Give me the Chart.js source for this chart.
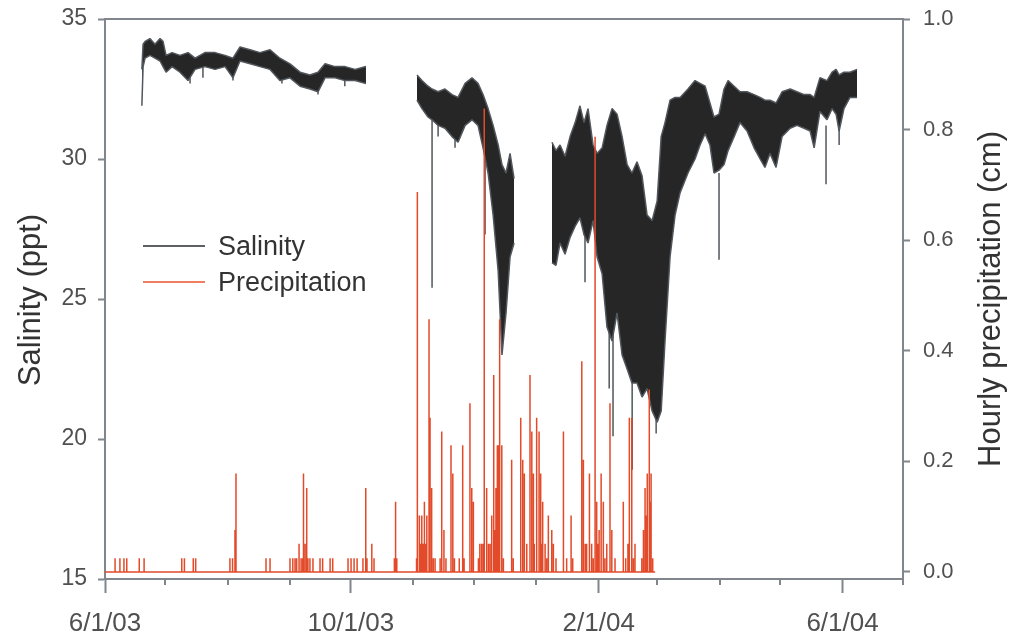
<!DOCTYPE html>
<html>
<head>
<meta charset="utf-8">
<script src="https://cdn.jsdelivr.net/npm/chart.js@4.4.0/dist/chart.umd.min.js"></script>
<style>
  html, body { margin: 0; padding: 0; background: #fff; }
  #wrap { position: relative; width: 1014px; height: 641px; }
  .legend {
    position: absolute; left: 143px; top: 228px;
    font-family: 'Liberation Sans', Arial, sans-serif; font-size: 27px; color: #333;
  }
  .legend-row { display: flex; align-items: center; height: 36px; }
  .legend-swatch { width: 62px; height: 2px; margin-right: 13px; }
</style>
</head>
<body>
<div id="wrap">
  <canvas id="chart" width="1014" height="641"></canvas>
  <div class="legend">
    <div class="legend-row"><span class="legend-swatch" style="background:#5c6166"></span>Salinity</div>
    <div class="legend-row"><span class="legend-swatch" style="background:#ee7f62"></span>Precipitation</div>
  </div>
</div>
<script>
// days counted from 6/1/03
const monthDays = [0, 30, 61, 92, 122, 153, 183, 214, 245, 274, 305, 335, 366, 396];
const labelDays = [0, 122, 245, 366];
const labelText = ['6/1/03', '10/1/03', '2/1/04', '6/1/04'];
const salTicks = [15, 20, 25, 30, 35];
const rainTicks = [0, 0.2, 0.4, 0.6, 0.8, 1.0];

// salinity envelope (upper / lower edge of the hourly trace), null = logger gap
const salDays = [
  18.3, 18.9, 19.9, 22.3, 24.8, 27.3, 28.8, 30.3, 33.3, 37.2, 41.2, 44.7, 49.6, 54.6, 59.6,
  63.5, 67.0, 72.0, 76.9, 81.9, 86.8, 91.8, 96.8, 101.7, 105.7, 109.2, 114.1, 119.1, 124.1, 129.5,
  null,
  154.8, 157.3, 160.3, 162.3, 165.3, 168.7, 172.2, 175.2, 178.7, 182.1, 185.1, 187.6, 190.1, 192.6,
  195.1, 197.0, 199.0, 201.0, 203.0,
  null,
  221.8, 223.8, 225.8, 228.3, 230.8, 233.3, 235.7, 237.7, 239.7, 242.2, 244.2, 246.7, 249.1, 251.6,
  254.1, 256.6, 259.1, 261.5, 264.0, 266.5, 269.0, 271.5, 274.0, 276.0, 277.9, 280.4, 282.9, 285.4,
  289.3, 292.8, 295.3, 297.8, 300.2, 302.2, 304.7, 307.2, 309.2, 312.2, 315.1, 318.6, 322.1, 325.1,
  327.5, 330.0, 333.0, 336.0, 340.0, 343.4, 346.9, 349.9, 351.9, 354.8, 358.3, 360.8, 362.8, 364.3,
  366.7, 369.7, 373.2,
];
const salHigh = [
  33.2, 34.1, 34.2, 34.3, 34.1, 34.3, 34.2, 33.7, 33.8, 33.7, 33.8, 33.6, 33.8, 33.8, 33.7,
  33.6, 34.0, 33.9, 33.8, 33.9, 33.6, 33.4, 33.1, 33.0, 33.1, 33.4, 33.3, 33.3, 33.2, 33.3,
  null,
  33.0, 32.8, 32.6, 32.5, 32.4, 32.5, 32.3, 32.2, 32.7, 32.9, 32.7, 32.3, 31.8, 31.2,
  30.5, 29.8, 29.5, 30.2, 29.3,
  null,
  30.6, 30.3, 30.5, 30.1, 30.8, 31.3, 31.9, 31.3, 31.8, 30.5, 30.2, 30.4, 31.2, 31.8,
  31.6, 30.8, 29.8, 29.5, 29.9, 29.4, 28.0, 27.8, 28.5, 30.8, 31.3, 32.1, 32.2, 32.2,
  32.5, 32.8, 32.7, 32.6, 32.0, 31.5, 31.6, 32.5, 32.8, 32.6, 32.4, 32.4, 32.3, 32.2,
  32.1, 32.1, 32.0, 32.4, 32.5, 32.4, 32.3, 32.3, 32.2, 32.9, 32.8, 33.1, 33.2, 33.0,
  33.1, 33.1, 33.2,
];
const salLow = [
  31.9, 33.3, 33.6, 33.7, 33.6, 33.5, 33.3, 33.1, 33.3, 33.1, 32.8, 33.2, 33.3, 33.2, 33.3,
  32.9, 33.5, 33.4, 33.3, 33.2, 32.8, 32.9, 32.6, 32.5, 32.4, 32.9, 32.9, 32.8, 32.8, 32.7,
  null,
  32.1, 31.8, 31.5, 31.4, 31.2, 31.1, 30.8, 30.6, 31.2, 31.4, 31.2, 30.4, 29.5, 28.0,
  26.0, 23.0, 24.5, 26.5, 27.0,
  null,
  26.3, 26.2, 27.0, 26.6, 27.2, 27.6, 27.9, 27.3, 27.0, 27.8, 26.5, 25.9, 24.0, 23.5,
  24.5, 23.0, 22.5, 22.0, 22.0, 21.5, 21.8, 21.0, 20.6, 21.0, 23.5, 26.5, 28.0, 28.8,
  29.5, 30.0, 30.5, 30.9, 30.5, 29.5, 29.6, 29.8, 30.3, 30.8, 31.3, 31.0, 30.4, 30.0,
  29.7, 30.2, 29.7, 30.8, 31.1, 31.2, 31.1, 31.0, 30.4, 31.7, 31.4, 31.8, 31.6, 31.0,
  31.8, 32.2, 32.2,
];

// single-hour salinity drops below the band
const spikeDays   = [42.2, 48.6, 63.5, 87.8, 105.7, 119.0, 162.3, 165.3, 173.7, 188.6,
                     238.2, 250.2, 252.1, 261.6, 273.5, 304.7, 357.8, 364.3];
const spikeTop    = [33.3, 33.4, 33.3, 33.3, 32.8, 33.0, 31.5, 31.8, 31.5, 30.5,
                     28.0, 25.0, 24.0, 22.5, 22.0, 29.5, 31.2, 31.5];
const spikeBottom = [32.7, 32.9, 32.8, 32.7, 32.3, 32.6, 25.4, 30.8, 30.4, 27.3,
                     25.6, 21.8, 20.1, 18.9, 20.2, 26.4, 29.1, 30.5];

// hourly precipitation (cm), non-zero hours only
const rainDays = [
  5.0, 7.4, 9.4, 10.8, 17.0, 19.4, 38.1, 39.4, 43.8, 45.0,
  62.0, 63.3, 64.5, 65.0, 79.9, 81.9, 91.8, 93.2, 94.3, 95.1,
  96.3, 97.3, 98.1, 98.5, 99.3, 100.1, 100.7, 101.7, 103.2, 106.7,
  108.0, 111.7, 113.0, 120.6, 122.1, 123.6, 125.1, 128.0, 129.4, 130.0,
  132.4, 133.5, 143.6, 144.2, 144.8,
  154.6, 155.0, 156.0, 156.5, 157.2, 157.8, 158.5, 159.0, 159.7, 160.8,
  161.3, 162.1, 162.9, 163.8, 166.3, 167.1, 168.2, 169.2, 171.7, 172.6,
  173.4, 175.8, 177.5, 178.2, 181.1, 182.0, 182.8, 185.3, 186.0, 186.9,
  187.7, 188.2, 189.4, 190.3, 191.1, 191.9, 192.9, 193.5, 194.0, 194.7,
  195.2, 195.6, 196.0, 196.9, 197.7, 201.8, 202.6, 206.3, 207.3, 208.1,
  209.3, 210.9, 211.8, 212.6, 213.0, 214.2, 215.4, 216.2, 216.7, 217.2,
  218.4, 219.2, 220.0, 221.7, 222.5, 223.8, 227.5, 229.1, 231.3, 232.1,
  236.6, 237.4, 238.3, 239.0, 240.4, 241.5, 242.3, 243.2, 244.0, 244.6,
  245.2, 246.2, 247.3, 248.1, 249.0, 250.6, 251.5, 253.1, 257.2, 258.4,
  259.5, 260.2, 261.4, 262.2, 263.0, 266.4, 267.2, 268.0, 268.6, 269.1,
  270.1, 270.6, 271.0, 271.8,
];
const rainCm = [
  0.025, 0.025, 0.025, 0.025, 0.025, 0.025, 0.025, 0.025, 0.025, 0.025,
  0.025, 0.025, 0.076, 0.178, 0.025, 0.025, 0.025, 0.025, 0.025, 0.025,
  0.051, 0.025, 0.025, 0.178, 0.051, 0.152, 0.025, 0.025, 0.025, 0.025,
  0.025, 0.025, 0.025, 0.025, 0.025, 0.025, 0.025, 0.025, 0.152, 0.025,
  0.051, 0.025, 0.025, 0.127, 0.025,
  0.025, 0.687, 0.102, 0.051, 0.102, 0.051, 0.127, 0.051, 0.102, 0.457,
  0.279, 0.152, 0.025, 0.025, 0.025, 0.254, 0.076, 0.025, 0.229, 0.178,
  0.025, 0.025, 0.229, 0.025, 0.305, 0.152, 0.127, 0.025, 0.051, 0.051,
  0.051, 0.838, 0.152, 0.051, 0.051, 0.102, 0.356, 0.076, 0.152, 0.229,
  0.229, 0.102, 0.457, 0.229, 0.025, 0.203, 0.025, 0.279, 0.203, 0.178,
  0.051, 0.356, 0.254, 0.178, 0.051, 0.279, 0.254, 0.178, 0.051, 0.127,
  0.051, 0.025, 0.102, 0.076, 0.051, 0.025, 0.254, 0.025, 0.102, 0.025,
  0.381, 0.203, 0.051, 0.051, 0.178, 0.051, 0.025, 0.787, 0.127, 0.051,
  0.076, 0.178, 0.127, 0.025, 0.051, 0.305, 0.076, 0.025, 0.127, 0.025,
  0.051, 0.279, 0.279, 0.025, 0.051, 0.025, 0.076, 0.152, 0.102, 0.178,
  0.330, 0.127, 0.178, 0.025,
];
const rainFirstDay = 0;
const rainLastDay = 273;

const AXIS_COLOR = '#80868b';
const TEXT_COLOR = '#505050';
const SAL_FILL = '#262626';
const SAL_EDGE = '#51575c';
const RAIN_COLOR = '#e24a2a';

Chart.defaults.font.family = "'Liberation Sans', Arial, sans-serif";
Chart.defaults.color = TEXT_COLOR;

// ---------------- datasets ----------------

function salinitySegments() {
  const segs = [];
  let cur = null;
  salDays.forEach((d, i) => {
    if (d === null) { cur = null; return; }
    if (!cur) { cur = { hi: [], lo: [] }; segs.push(cur); }
    cur.hi.push({ x: d, y: salHigh[i] });
    cur.lo.push({ x: d, y: salLow[i] });
  });
  return segs;
}

function buildDatasets() {
  const sets = [];
  salinitySegments().forEach((seg) => {
    sets.push({
      data: seg.hi, borderColor: SAL_EDGE, borderWidth: 1.5, fill: false, yAxisID: 'y', order: 2,
    });
    sets.push({
      data: seg.lo, borderColor: SAL_EDGE, borderWidth: 1.5, fill: '-1',
      backgroundColor: SAL_FILL, yAxisID: 'y', order: 2,
    });
  });

  const spikes = [];
  spikeDays.forEach((d, i) => {
    spikes.push({ x: d, y: spikeTop[i] }, { x: d, y: spikeBottom[i] }, { x: d, y: null });
  });
  sets.push({ data: spikes, borderColor: SAL_EDGE, borderWidth: 1.5, yAxisID: 'y', order: 2 });

  const rain = [{ x: rainFirstDay, y: 0 }];
  rainDays.forEach((d, i) => {
    rain.push({ x: d, y: 0 }, { x: d, y: rainCm[i] }, { x: d, y: 0 });
  });
  rain.push({ x: rainLastDay, y: 0 });
  sets.push({ data: rain, borderColor: RAIN_COLOR, borderWidth: 1.5, yAxisID: 'y2', order: 0 });

  return sets;
}

// ---------------- plugins ----------------

function drawTitle(ctx, text, x, y) {
  ctx.save();
  ctx.fillStyle = '#333';
  ctx.font = "31px 'Liberation Sans', Arial, sans-serif";
  ctx.textAlign = 'center';
  ctx.textBaseline = 'middle';
  ctx.translate(x, y);
  ctx.rotate(-Math.PI / 2);
  ctx.fillText(text, 0, 0);
  ctx.restore();
}

const decorPlugin = {
  id: 'decor',
  afterDraw(chart) {
    const { ctx } = chart;
    const xs = chart.scales.x;

    // minor monthly ticks
    ctx.save();
    ctx.strokeStyle = AXIS_COLOR;
    ctx.lineWidth = 2;
    monthDays.forEach((d) => {
      if (labelDays.includes(d)) return;
      const px = Math.round(xs.getPixelForValue(d));
      ctx.beginPath();
      ctx.moveTo(px, xs.top);
      ctx.lineTo(px, xs.top + 6);
      ctx.stroke();
    });
    ctx.restore();

    drawTitle(ctx, 'Salinity (ppt)', 31, 300);
    drawTitle(ctx, 'Hourly precipitation (cm)', 991, 299);
  },
};

// ---------------- chart ----------------

const axisGrid = { drawOnChartArea: false, color: AXIS_COLOR, tickColor: AXIS_COLOR, tickWidth: 2 };
const axisBorder = { color: AXIS_COLOR, width: 2 };
const noPad = (s) => { s.paddingTop = 0; s.paddingBottom = 0; };

new Chart(document.getElementById('chart'), {
  type: 'line',
  data: { datasets: buildDatasets() },
  plugins: [decorPlugin],
  options: {
    responsive: false,
    animation: false,
    events: [],
    layout: { padding: 0 },
    elements: {
      point: { radius: 0 },
      line: { tension: 0, borderJoinStyle: 'bevel' },
    },
    plugins: { legend: { display: false }, tooltip: { enabled: false } },
    scales: {
      x: {
        type: 'linear', position: 'bottom', min: 0, max: monthDays[monthDays.length - 1],
        grid: { ...axisGrid, tickLength: 14 },
        border: axisBorder,
        afterBuildTicks: (s) => { s.ticks = labelDays.map((v) => ({ value: v })); },
        afterFit: (s) => { s.height = 62; },
        ticks: {
          autoSkip: false, maxRotation: 0, padding: 15,
          font: { size: 26 },
          callback: (v) => labelText[labelDays.indexOf(v)],
        },
      },
      xTop: {
        type: 'linear', position: 'top', min: 0, max: monthDays[monthDays.length - 1],
        grid: { display: false },
        border: axisBorder,
        ticks: { display: false },
        afterFit: (s) => { s.height = 19; },
      },
      y: {
        position: 'left', min: salTicks[0], max: salTicks[salTicks.length - 1],
        grid: { ...axisGrid, tickLength: 7 },
        border: axisBorder,
        afterBuildTicks: (s) => { s.ticks = salTicks.map((v) => ({ value: v })); },
        afterFit: (s) => { s.width = 105; noPad(s); },
        ticks: { padding: 11, font: { size: 23 } },
      },
      y2: {
        position: 'right', min: -0.0127, max: 1,
        grid: { ...axisGrid, tickLength: 7 },
        border: axisBorder,
        afterBuildTicks: (s) => { s.ticks = rainTicks.map((v) => ({ value: v })); },
        afterFit: (s) => { s.width = 111; noPad(s); },
        ticks: { padding: 13, font: { size: 22 }, callback: (v) => v.toFixed(1) },
      },
    },
  },
});
</script>
</body>
</html>
